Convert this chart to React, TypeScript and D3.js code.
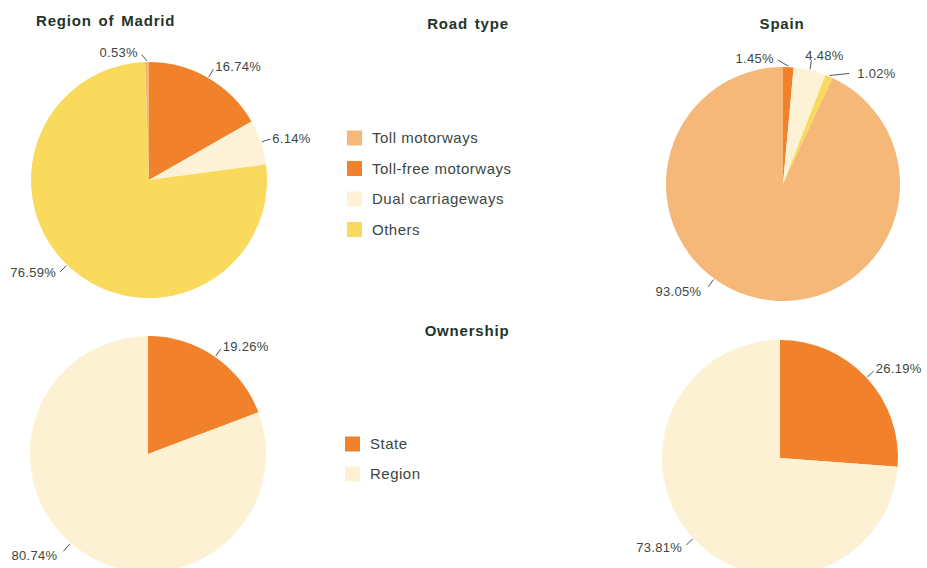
import React from "react";
import * as d3 from "d3";

const roadTypes = ["Toll motorways", "Toll-free motorways", "Dual carriageways", "Others"];
const madridRoadShares = [0.53, 16.74, 6.14, 76.59];
const spainRoadShares = [93.05, 1.45, 4.48, 1.02];
const ownershipTypes = ["State", "Region"];
const madridOwnershipShares = [19.26, 80.74];
const spainOwnershipShares = [26.19, 73.81];

const W = 927;
const H = 568;
const FONT = "'Liberation Sans', Arial, sans-serif";
const TEXT = "#3b4742";
const TITLE = "#24332c";

const roadColors: Record<string, string> = {
  "Toll motorways": "#f6b878",
  "Toll-free motorways": "#f1812a",
  "Dual carriageways": "#fdf2d6",
  Others: "#f9da5c",
};
const ownColors: Record<string, string> = {
  State: "#f1812a",
  Region: "#fdf1d3",
};

// drawing order clockwise from 12 o'clock
const roadOrder = [1, 2, 3, 0];
const ownOrder = [0, 1];

type Tweak = { at?: number; dir?: number; len?: number; anchor?: string; dx?: number; dy?: number };

function Pie(props: {
  cx: number;
  cy: number;
  r: number;
  cats: string[];
  values: number[];
  order: number[];
  colors: Record<string, string>;
  tweaks?: Record<number, Tweak>;
}) {
  const { cx, cy, r, cats, values, order, colors, tweaks = {} } = props;
  const data = order.map((i) => ({ cat: cats[i], v: values[i], idx: i }));
  const arcs = d3
    .pie<{ cat: string; v: number; idx: number }>()
    .sort(null)
    .value((d) => d.v)(data);
  const arc = d3.arc<any>().innerRadius(0).outerRadius(r);
  return (
    <g>
      {arcs.map((a, k) => (
        <path key={k} d={arc(a) as string} transform={`translate(${cx},${cy})`} fill={colors[a.data.cat]} />
      ))}
      {arcs.map((a, k) => {
        const t = tweaks[a.data.idx] || {};
        const mid = t.at !== undefined ? (t.at * Math.PI) / 180 : (a.startAngle + a.endAngle) / 2;
        const dir = t.dir !== undefined ? (t.dir * Math.PI) / 180 : mid;
        const len = t.len ?? 9;
        const x0 = cx + (r + 1) * Math.sin(mid);
        const y0 = cy - (r + 1) * Math.cos(mid);
        const x1 = x0 + len * Math.sin(dir);
        const y1 = y0 - len * Math.cos(dir);
        const anchor = t.anchor ?? (Math.sin(dir) >= 0 ? "start" : "end");
        const tx = x1 + (anchor === "start" ? 2 : anchor === "end" ? -4 : 0) + (t.dx ?? 0);
        const ty = y1 - 3 * Math.cos(dir) + (t.dy ?? 0);
        return (
          <g key={"l" + k}>
            <line x1={x0} y1={y0} x2={x1} y2={y1} stroke="#555" strokeWidth={1} />
            <text
              x={tx}
              y={ty}
              dy="0.35em"
              textAnchor={anchor}
              fontFamily={FONT}
              fontSize={13}
              letterSpacing={0.3}
              fill={TEXT}
            >
              {a.data.v.toFixed(2) + "%"}
            </text>
          </g>
        );
      })}
    </g>
  );
}

function Legend(props: { x: number; y: number; step: number; cats: string[]; colors: Record<string, string> }) {
  const { x, y, step, cats, colors } = props;
  return (
    <g>
      {cats.map((c, i) => (
        <g key={c} transform={`translate(${x},${y + i * step})`}>
          <rect x={0} y={-7.5} width={15} height={15} fill={colors[c]} />
          <text x={25} y={0} dy="0.35em" fontFamily={FONT} fontSize={15} letterSpacing={0.5} fill={TEXT}>
            {c}
          </text>
        </g>
      ))}
    </g>
  );
}

function Title(props: { x: number; y: number; anchor?: string; children: string }) {
  return (
    <text
      x={props.x}
      y={props.y}
      textAnchor={props.anchor ?? "middle"}
      fontFamily={FONT}
      fontWeight="bold"
      fontSize={15}
      letterSpacing={0.8}
      wordSpacing={2}
      fill={TITLE}
    >
      {props.children}
    </text>
  );
}

export default function App() {
  return (
    <svg
      width={W}
      height={H}
      style={{ position: "absolute", left: 0, top: 0, background: "#fff" }}
    >
      <rect width={W} height={H} fill="#fff" />
      <Title x={36} y={26} anchor="start">Region of Madrid</Title>
      <Title x={468} y={29}>Road type</Title>
      <Title x={782} y={29}>Spain</Title>
      <Title x={467} y={336}>Ownership</Title>

      <Pie cx={149} cy={180} r={118} cats={roadTypes} values={madridRoadShares} order={roadOrder} colors={roadColors}
        tweaks={{ 0: { dir: -40, len: 8 }, 3: { at: 224, len: 9, dy: -2 } }} />
      <Pie cx={783} cy={184} r={117} cats={roadTypes} values={spainRoadShares} order={roadOrder} colors={roadColors}
        tweaks={{ 0: { at: 216, len: 9, dx: -3, dy: 2 }, 1: { dir: -60, len: 12 }, 2: { dir: 8, len: 9, anchor: "start", dx: -8, dy: -2 }, 3: { dir: 84, len: 20, dx: 6 } }} />
      <Pie cx={148} cy={454} r={118} cats={ownershipTypes} values={madridOwnershipShares} order={ownOrder} colors={ownColors}
        tweaks={{ 1: { at: 221, len: 10, dx: -2, dy: 2 } }} />
      <Pie cx={780} cy={458} r={118} cats={ownershipTypes} values={spainOwnershipShares} order={ownOrder} colors={ownColors} />

      <Legend x={347} y={138} step={30.5} cats={roadTypes} colors={roadColors} />
      <Legend x={345} y={444} step={30} cats={ownershipTypes} colors={ownColors} />
    </svg>
  );
}
